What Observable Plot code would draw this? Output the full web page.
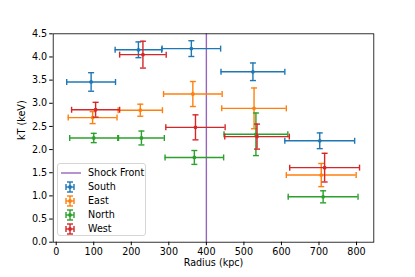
<!DOCTYPE html>
<html>
<head>
<meta charset="utf-8">
<script src="https://cdn.jsdelivr.net/npm/d3@7"></script>
<script src="https://cdn.jsdelivr.net/npm/@observablehq/plot@0.6"></script>
<style>
  html, body { margin: 0; padding: 0; background: #fff; }
  #wrap { position: relative; width: 415px; height: 277px; font-family: "DejaVu Sans", sans-serif; }
  #legend { position: absolute; left: 57px; top: 163px; width: 89px; height: 73px;
    border: 1px solid #d6d6d6; border-radius: 3px; background: rgba(255,255,255,0.8);
    box-sizing: border-box; font-size: 9.6px; color: #000; }
  .row { position: absolute; left: 0; height: 14px; display: flex; align-items: center; }
  .row svg { display: block; }
  .row span { position: absolute; left: 30px; white-space: nowrap; line-height: 14px; }
</style>
</head>
<body>
<div id="wrap"></div>
<script>
// ---- data ----
const regions = ["South", "East", "North", "West"];
const colors = ["#1f77b4", "#ff7f0e", "#2ca02c", "#d62728"];
const shockRadius = 400;
const shockLabel = "Shock Front";

const southR    = [93, 219, 360, 524, 702];
const southRErr = [65, 62, 78, 85, 93];
const southKT   = [3.46, 4.155, 4.18, 3.68, 2.19];
const southKTErr= [0.20, 0.17, 0.17, 0.19, 0.17];

const eastR     = [97, 224, 364, 527, 706];
const eastRErr  = [65, 59, 78, 86, 93];
const eastKT    = [2.69, 2.85, 3.20, 2.89, 1.45];
const eastKTErr = [0.13, 0.13, 0.27, 0.44, 0.25];

const northR    = [100, 227, 368, 532, 711];
const northRErr = [64, 61, 78, 85, 93];
const northKT   = [2.25, 2.25, 1.83, 2.33, 0.98];
const northKTErr= [0.10, 0.15, 0.15, 0.46, 0.13];

const westR     = [105, 231, 371, 535, 715];
const westRErr  = [64, 62, 79, 86, 93];
const westKT    = [2.86, 4.05, 2.48, 2.28, 1.61];
const westKTErr = [0.16, 0.29, 0.27, 0.27, 0.31];

const xTicks = [0, 100, 200, 300, 400, 500, 600, 700, 800];
const yTicks = [0, 0.5, 1, 1.5, 2, 2.5, 3, 3.5, 4, 4.5];

// ---- build table ----
const seriesList = [
  [southR, southRErr, southKT, southKTErr],
  [eastR, eastRErr, eastKT, eastKTErr],
  [northR, northRErr, northKT, northKTErr],
  [westR, westRErr, westKT, westKTErr]
];
const rows = [];
seriesList.forEach(([r, re, k, ke], si) => {
  r.forEach((v, i) => rows.push({region: regions[si], r: v, re: re[i], kt: k[i], ke: ke[i]}));
});

const hcap = {draw(ctx, size) { const h = Math.sqrt(size / Math.PI); ctx.moveTo(-h, 0); ctx.lineTo(h, 0); }};
const vcap = {draw(ctx, size) { const h = Math.sqrt(size / Math.PI); ctx.moveTo(0, -h); ctx.lineTo(0, h); }};

const marks = [
  Plot.ruleX([shockRadius], {stroke: "#9467bd", strokeWidth: 1.4})
];
regions.forEach((reg, si) => {
  const d = rows.filter(o => o.region === reg);
  const c = colors[si];
  marks.push(
    Plot.ruleY(d, {y: "kt", x1: o => o.r - o.re, x2: o => o.r + o.re, stroke: c, strokeWidth: 1.4}),
    Plot.ruleX(d, {x: "r", y1: o => o.kt - o.ke, y2: o => o.kt + o.ke, stroke: c, strokeWidth: 1.4}),
    Plot.dot(d, {x: o => o.r - o.re, y: "kt", symbol: vcap, r: 3, stroke: c, strokeWidth: 1.4, fill: "none"}),
    Plot.dot(d, {x: o => o.r + o.re, y: "kt", symbol: vcap, r: 3, stroke: c, strokeWidth: 1.4, fill: "none"}),
    Plot.dot(d, {x: "r", y: o => o.kt - o.ke, symbol: hcap, r: 3, stroke: c, strokeWidth: 1.4, fill: "none"}),
    Plot.dot(d, {x: "r", y: o => o.kt + o.ke, symbol: hcap, r: 3, stroke: c, strokeWidth: 1.4, fill: "none"}),
    Plot.dot(d, {x: "r", y: "kt", r: 1.9, fill: c, stroke: "none"})
  );
});
marks.push(
  Plot.frame({stroke: "#000", strokeWidth: 0.8}),
  Plot.axisX({ticks: xTicks, tickSize: 3.5, tickPadding: 2.5, label: null, fontSize: 9.6, tickFormat: d3.format("d")}),
  Plot.axisY({ticks: yTicks, tickSize: 3.5, tickPadding: 2.5, label: null, fontSize: 9.6, tickFormat: d3.format(".1f")}),
  Plot.text(["Radius (kpc)"], {frameAnchor: "bottom", dy: 24, text: d => d, fontSize: 9.6}),
  Plot.text(["kT (keV)"], {frameAnchor: "left", dx: -31.5, dy: 2, rotate: -90, text: d => d, fontSize: 9.6})
);

const chart = Plot.plot({
  width: 415,
  height: 277,
  marginLeft: 52.7,
  marginRight: 41.7,
  marginTop: 33.3,
  marginBottom: 35.3,
  style: {fontFamily: "DejaVu Sans, sans-serif", fontSize: "9.6px", color: "#000", background: "#fff", overflow: "visible"},
  x: {domain: [-8, 846]},
  y: {domain: [0, 4.5]},
  marks
});
const wrap = document.getElementById("wrap");
wrap.appendChild(chart);

// ---- legend ----
const legend = document.createElement("div");
legend.id = "legend";
const entries = [{label: shockLabel, color: "#9467bd", line: true}]
  .concat(regions.map((r, i) => ({label: r, color: colors[i], line: false})));
entries.forEach((e, i) => {
  const row = document.createElement("div");
  row.className = "row";
  row.style.top = (1.5 + i * 14.2) + "px";
  let icon;
  if (e.line) {
    icon = `<svg width="30" height="14"><line x1="3" x2="23" y1="7" y2="7" stroke="${e.color}" stroke-width="1.4"/></svg>`;
  } else {
    const cx = 12, cy = 7;
    icon = `<svg width="30" height="14" stroke="${e.color}" stroke-width="1.4" fill="none">
      <line x1="${cx-4}" x2="${cx+4}" y1="${cy}" y2="${cy}"/>
      <line x1="${cx-4}" x2="${cx-4}" y1="${cy-3}" y2="${cy+3}"/>
      <line x1="${cx+4}" x2="${cx+4}" y1="${cy-3}" y2="${cy+3}"/>
      <line x1="${cx}" x2="${cx}" y1="${cy-5}" y2="${cy+5}"/>
      <line x1="${cx-3}" x2="${cx+3}" y1="${cy-5}" y2="${cy-5}"/>
      <line x1="${cx-3}" x2="${cx+3}" y1="${cy+5}" y2="${cy+5}"/>
      <circle cx="${cx}" cy="${cy}" r="1.9" fill="${e.color}" stroke="none"/>
    </svg>`;
  }
  row.innerHTML = icon + `<span>${e.label}</span>`;
  legend.appendChild(row);
});
wrap.appendChild(legend);
</script>
</body>
</html>
